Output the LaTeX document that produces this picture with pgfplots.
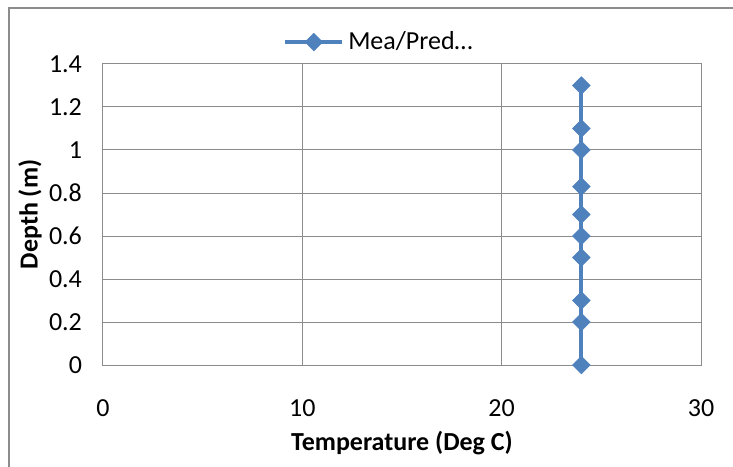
\documentclass[border=0pt]{standalone}
\usepackage{fontspec}
\setmainfont{Carlito}
\usepackage{pgfplots}
\pgfplotsset{compat=1.18}
\definecolor{serblue}{HTML}{4F81BD}
\definecolor{gridgray}{HTML}{8C8C8C}
\begin{document}
\begin{tikzpicture}
\clip (-51.5pt,-50.5pt) rectangle (315pt,182.5pt);
\useasboundingbox (-51.5pt,-50.5pt) rectangle (315pt,182.5pt);
\fill[white] (-51.5pt,-50.5pt) rectangle (315pt,182.5pt);
\draw[gridgray, line width=1pt] (340pt,178.5pt) -- (-47pt,178.5pt) -- (-47pt,-70pt);
\begin{axis}[
  at={(0pt,0pt)}, anchor=south west,
  width=299pt, height=150.5pt, scale only axis,
  xmin=0, xmax=30, ymin=0, ymax=1.4,
  xtick={0,10,20,30}, ytick={0,0.2,0.4,0.6,0.8,1,1.2,1.4},
  yticklabels={0,0.2,0.4,0.6,0.8,1,1.2,1.4},
  /pgf/number format/assume math mode=true,
  grid=major,
  grid style={gridgray, line width=0.5pt},
  axis line style={gridgray, line width=0.5pt},
  major tick length=0pt,
  tick label style={font=\fontsize{13}{15}\selectfont, text=black},
  xticklabel style={anchor=center, yshift=-21.5pt},
  yticklabel style={anchor=east, xshift=-7pt},
  xlabel={Temperature (Deg C)},
  ylabel={Depth (m)},
  label style={font=\fontsize{13}{15}\selectfont\bfseries},
  xlabel style={at={(axis description cs:0.5,-0.259)}, anchor=center},
  ylabel style={at={(axis description cs:-0.1221,0.5)}, anchor=center},
  legend style={draw=none, fill=none, at={(axis description cs:0.4632,1.073)}, anchor=center,
    font=\fontsize{13}{15}\selectfont},
  legend image code/.code={\draw[mark repeat=2,mark phase=2,#1] plot coordinates {(0cm,0cm) (0.5cm,0cm) (1cm,0cm)};},
]
\addplot[serblue, line width=2pt, mark=square*, mark size=3.1pt,
  mark options={rotate=45, solid, fill=serblue, draw=serblue, line width=0.3pt}]
  coordinates {(24,0) (24,0.2) (24,0.3) (24,0.5) (24,0.6) (24,0.7) (24,0.83) (24,1.0) (24,1.1) (24,1.3)};
\addlegendentry{Mea/Pred\ldots}
\end{axis}
\end{tikzpicture}
\end{document}
